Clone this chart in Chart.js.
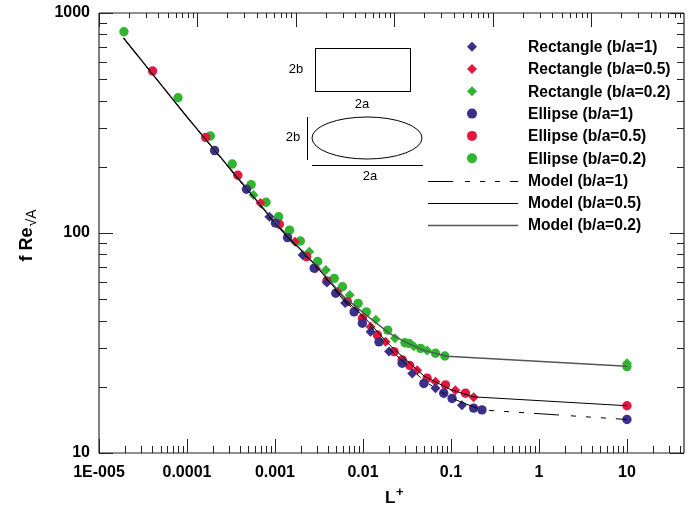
<!DOCTYPE html>
<html lang="en">
<head>
<meta charset="UTF-8">
<title>f Re vs L+</title>
<script src="https://cdn.jsdelivr.net/npm/chart.js"></script>
<style>
  html, body { margin: 0; padding: 0; background: #fff; }
</style>
</head>
<body>
<canvas id="chart" width="689" height="507"></canvas>
<script>
// axis ticks
const xMajorTicks = [1e-5, 1e-4, 1e-3, 1e-2, 1e-1, 1, 10];
const xTickLabels = ['1E-005', '0.0001', '0.001', '0.01', '0.1', '1', '10'];
const yMajorTicks = [10, 100, 1000];
const yTickLabels = ['10', '100', '1000'];

// measured points [L+, f Re]
const rect1 = [[8.65e-4,118.6],[2.06e-3,79.4],[3.89e-3,59.5],[6.27e-3,48.1],[1.22e-2,35.6],[1.98e-2,28.9],[3.63e-2,23.0],[6.67e-2,19.7],[0.133,16.5]];
const rect05 = [[6.84e-4,137],[1.69e-3,91.3],[2.92e-3,69.2],[5.13e-3,54.1],[8.28e-3,44.7],[1.22e-2,37.5],[1.81e-2,32.0],[4.13e-2,23.8],[6.67e-2,21.1],[0.112,19.3],[0.181,17.9]];
const rect02 = [[5.7e-4,149],[2.45e-3,82.2],[3.79e-3,67.9],[7.08e-3,52.2],[1.4e-2,40.3],[2.31e-2,33.2],[0.0379,30.6],[0.0536,29.2],[10,25.6]];
const ellipse1 = [[2.06e-4,237],[4.74e-4,158],[1.01e-3,111],[1.39e-3,95.3],[2.79e-3,69.2],[4.9e-3,53.2],[7.93e-3,43.8],[9.84e-3,38.9],[1.52e-2,32.0],[2.79e-2,25.6],[4.92e-2,20.7],[8.28e-2,18.7],[0.103,17.7],[0.181,16.0],[0.225,15.7],[10,14.2]];
const ellipse05 = [[4.06e-5,545],[1.63e-4,272],[3.78e-4,183],[1.12e-3,109.6],[2.29e-3,78],[3.89e-3,60.6],[6.65e-3,48.7],[9.84e-3,40.9],[1.46e-2,34.4],[2.25e-2,28.9],[2.79e-2,26.5],[3.4e-2,25.0],[5.36e-2,21.9],[8.66e-2,20.4],[0.146,18.7],[10,16.4]];
const ellipse02 = [[1.92e-5,822],[7.9e-5,412],[1.84e-4,276],[3.27e-4,206],[5.36e-4,166],[7.9e-4,138],[1.1e-3,118.6],[1.46e-3,103],[1.94e-3,92],[3.05e-3,74.2],[4.71e-3,62.2],[5.85e-3,57],[8.8e-3,47.9],[1.09e-2,43.8],[1.91e-2,36.2],[3.0e-2,31.7],[0.0333,31.5],[0.0452,29.9],[0.0667,28.4],[0.0851,27.6],[10,24.7]];

// model curves [L+, f Re]
const model1 = [[1.9e-5,770],[1e-4,337],[1e-3,110],[3e-3,69.3],[6e-3,49.5],[1e-2,41.3],[2e-2,29.7],[5e-2,21.2],[0.1,17.8],[0.22,15.7],[10,14.2]];
const model05 = [[1.9e-5,770],[1e-4,337],[1e-3,111],[3e-3,70],[6e-3,50.5],[1e-2,42],[2e-2,31.0],[5e-2,22.3],[0.1,19.4],[0.18,18.0],[10,16.4]];
const model02 = [[1.9e-5,770],[1e-4,337],[1e-3,112],[3e-3,70.5],[6e-3,51.5],[1e-2,43.5],[2e-2,35],[3e-2,32],[5e-2,29.2],[0.09,27.5],[10,24.8]];

const BLUE = '#3b2f8a', RED = '#e5173f', GREEN = '#2fb52f';
const FONT = "'Liberation Sans', Arial, sans-serif";
const pts = a => a.map(p => ({ x: p[0], y: p[1] }));

function markers(label, data, color, style, order) {
  return {
    label, data: pts(data), showLine: false, order,
    pointStyle: style, pointRadius: style === 'circle' ? 4.7 : 5,
    pointBackgroundColor: color, pointBorderColor: color, pointBorderWidth: 0
  };
}
function model(label, data, color, width, dash) {
  return {
    label, data: pts(data), showLine: true, order: 0,
    borderColor: color, borderWidth: width, borderDash: dash,
    pointRadius: 0, tension: 0
  };
}

const datasets = [
  markers('Rectangle (b/a=1)', rect1, BLUE, 'rectRot', 2),
  markers('Rectangle (b/a=0.5)', rect05, RED, 'rectRot', 4),
  markers('Rectangle (b/a=0.2)', rect02, GREEN, 'rectRot', 6),
  markers('Ellipse (b/a=1)', ellipse1, BLUE, 'circle', 1),
  markers('Ellipse (b/a=0.5)', ellipse05, RED, 'circle', 3),
  markers('Ellipse (b/a=0.2)', ellipse02, GREEN, 'circle', 5),
  model('Model (b/a=1)', model1, '#000', 1, [25, 12, 5, 10, 5, 10, 5, 10]),
  model('Model (b/a=0.5)', model05, '#000', 1, []),
  model('Model (b/a=0.2)', model02, '#555', 1.5, [])
];

function logSteps(min, max) {
  const out = [];
  for (let e = Math.floor(Math.log10(min)); e <= Math.ceil(Math.log10(max)); e++) {
    for (let m = 1; m < 10; m++) {
      const v = m * Math.pow(10, e);
      if (v >= min * 0.999 && v <= max * 1.001) out.push({ v, major: m === 1 });
    }
  }
  return out;
}

const decorations = {
  id: 'decorations',
  afterDraw(chart) {
    const ctx = chart.ctx;
    const a = chart.chartArea;
    const sx = chart.scales.x, sxt = chart.scales.xTop, sy = chart.scales.y;
    ctx.save();

    // frame
    ctx.lineCap = 'butt';
    ctx.strokeStyle = '#222';
    ctx.lineWidth = 1.2;
    ctx.beginPath();
    ctx.moveTo(a.left, a.top); ctx.lineTo(a.right, a.top);
    ctx.moveTo(a.right, a.top); ctx.lineTo(a.right, a.bottom);
    ctx.moveTo(a.left, a.bottom); ctx.lineTo(a.right, a.bottom);
    ctx.stroke();
    ctx.strokeStyle = '#808080';
    ctx.lineWidth = 2;
    ctx.beginPath();
    ctx.moveTo(a.left, a.top); ctx.lineTo(a.left, a.bottom);
    ctx.stroke();

    // inward tick marks
    ctx.strokeStyle = '#222';
    ctx.lineWidth = 1;
    ctx.beginPath();
    logSteps(sx.min, sx.max).forEach(t => {
      const px = Math.round(sx.getPixelForValue(t.v)) + 0.5;
      ctx.moveTo(px, a.bottom); ctx.lineTo(px, a.bottom - (t.major ? 14 : 7));
    });
    logSteps(sxt.min, sxt.max).forEach(t => {
      const px = Math.round(sxt.getPixelForValue(t.v)) + 0.5;
      ctx.moveTo(px, a.top); ctx.lineTo(px, a.top + (t.major ? 14 : 5));
    });
    logSteps(sy.min, sy.max).forEach(t => {
      const py = Math.round(sy.getPixelForValue(t.v)) + 0.5;
      ctx.moveTo(a.left, py); ctx.lineTo(a.left + (t.major ? 14 : 8), py);
      ctx.moveTo(a.right, py); ctx.lineTo(a.right - (t.major ? 14 : 7), py);
    });
    ctx.stroke();

    // axis titles
    ctx.fillStyle = '#000';
    ctx.textBaseline = 'alphabetic';
    ctx.textAlign = 'left';
    ctx.font = 'bold 17px ' + FONT;
    ctx.fillText('L', 385, 503);
    ctx.font = 'bold 13px ' + FONT;
    ctx.fillText('+', 396, 496);

    ctx.save();
    ctx.translate(32, 236);
    ctx.rotate(-Math.PI / 2);
    ctx.font = 'bold 18px ' + FONT;
    const w1 = ctx.measureText('f Re').width;
    ctx.font = '14px ' + FONT;
    const w2 = ctx.measureText('\u221AA').width;
    const x0 = -(w1 + w2) / 2;
    ctx.font = 'bold 18px ' + FONT;
    ctx.fillText('f Re', x0, 0);
    ctx.font = '14px ' + FONT;
    ctx.fillText('\u221AA', x0 + w1 + 1, 4);
    ctx.restore();

    // inset sketches
    ctx.strokeStyle = '#000';
    ctx.lineWidth = 1;
    ctx.strokeRect(315.5, 48.5, 95, 43);
    ctx.beginPath();
    ctx.ellipse(367, 138, 55, 21, 0, 0, Math.PI * 2);
    ctx.stroke();
    ctx.beginPath();
    ctx.moveTo(307.5, 117); ctx.lineTo(307.5, 160);
    ctx.moveTo(312, 165.5); ctx.lineTo(423, 165.5);
    ctx.stroke();
    ctx.font = '13px ' + FONT;
    ctx.textAlign = 'center';
    ctx.textBaseline = 'middle';
    ctx.fillText('2b', 296, 69);
    ctx.fillText('2a', 362, 104);
    ctx.fillText('2b', 293, 137);
    ctx.fillText('2a', 370, 176);

    // legend
    ctx.textAlign = 'left';
    ctx.font = 'bold 15.6px ' + FONT;
    chart.data.datasets.forEach((ds, i) => {
      const y = 46.7 + i * 22.3;
      if (ds.showLine) {
        ctx.strokeStyle = ds.borderColor;
        ctx.lineWidth = ds.borderWidth;
        ctx.setLineDash(ds.borderDash);
        ctx.beginPath();
        ctx.moveTo(428, Math.round(y) + 0.5); ctx.lineTo(518, Math.round(y) + 0.5);
        ctx.stroke();
        ctx.setLineDash([]);
      } else {
        ctx.fillStyle = ds.pointBackgroundColor;
        ctx.beginPath();
        if (ds.pointStyle === 'circle') {
          ctx.arc(472, y, 5, 0, Math.PI * 2);
        } else {
          ctx.moveTo(472, y - 5); ctx.lineTo(477, y); ctx.lineTo(472, y + 5); ctx.lineTo(467, y);
          ctx.closePath();
        }
        ctx.fill();
      }
      ctx.fillStyle = '#000';
      ctx.fillText(ds.label, 528, y + 1);
    });
    ctx.restore();
  }
};

const tickFont = { family: FONT, size: 16, weight: 'bold' };

new Chart(document.getElementById('chart'), {
  type: 'scatter',
  data: { datasets },
  options: {
    responsive: false,
    animation: false,
    layout: { padding: { left: 0, right: 3, top: 13, bottom: 0 } },
    plugins: { legend: { display: false }, tooltip: { enabled: false } },
    scales: {
      x: {
        type: 'logarithmic', position: 'bottom', min: 1e-5, max: 44.5,
        grid: { display: false, drawTicks: false }, border: { display: false },
        afterBuildTicks: s => { s.ticks = xMajorTicks.map(v => ({ value: v })); },
        afterFit: s => { s.height = 54; s.paddingLeft = 0; s.paddingRight = 0; },
        ticks: { autoSkip: false, maxRotation: 0, padding: 10, color: '#000', font: tickFont,
          callback: (v, i) => xTickLabels[i] }
      },
      xTop: {
        type: 'logarithmic', position: 'top', min: 1e-5, max: 8.7,
        grid: { display: false, drawTicks: false }, border: { display: false },
        ticks: { display: false },
        afterFit: s => { s.height = 0; }
      },
      y: {
        type: 'logarithmic', position: 'left', min: 10, max: 1000,
        grid: { display: false, drawTicks: false }, border: { display: false },
        afterBuildTicks: s => { s.ticks = yMajorTicks.map(v => ({ value: v })); },
        afterFit: s => { s.width = 99; s.paddingTop = 0; s.paddingBottom = 0; },
        ticks: { autoSkip: false, padding: 9, color: '#000', font: tickFont,
          callback: (v, i) => yTickLabels[i] }
      }
    }
  },
  plugins: [decorations]
});
</script>
</body>
</html>
